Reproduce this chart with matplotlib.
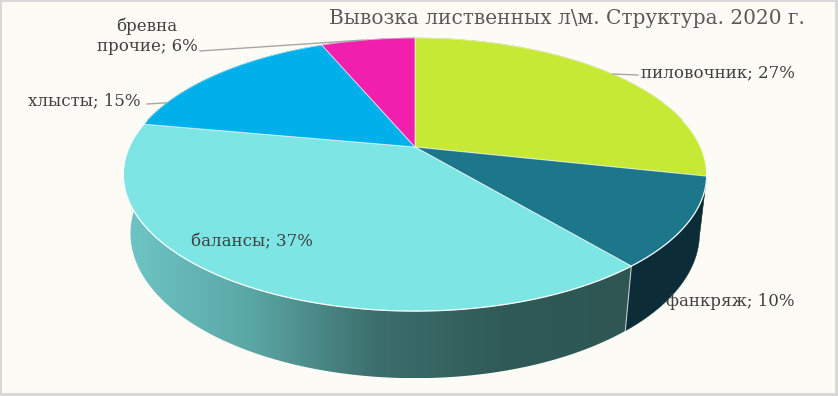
import numpy as np
import matplotlib; matplotlib.use('Agg')
import matplotlib.pyplot as plt
from matplotlib.patches import Polygon, Rectangle
from matplotlib.colors import LinearSegmentedColormap

# ---------------------------------------------------------------------------
# Data: structure of hardwood removals, 2020 (% of total)
# ---------------------------------------------------------------------------
CATEGORIES = ['пиловочник', 'фанкряж', 'балансы', 'хлысты', 'бревна\nпрочие']
SHARES     = [27, 10, 37, 15, 6]
TITLE      = 'Вывозка лиственных л\\м. Структура. 2020 г.'

TOP_COLORS  = ['#c6e935', '#1d778b', '#7de5e3', '#00b0ea', '#f01fae']
WALL_COLORS = ['#7f9a1f', '#0c2d38', None, '#00739a', '#9c1270']   # None -> gradient
WALL_GRAD   = ['#6fc6c6', '#5aa7a5', '#3c6e6c', '#2f5a57', '#2e5754']

C_TEXT = '#404040'; C_TITLE = '#595959'; C_LEADER = '#a6a6a6'
C_BG = '#fcfbf5'; C_FRAME = '#d8d8d8'

# label layout (pixel coords, y down): x, y, ha
LABEL_POS = [(641, 73, 'left'), (666, 302, 'left'), (191, 242, 'left'),
             (140, 101, 'right'), (147, 36, 'center')]
# leader lines: slice index -> (label-side start, fraction along slice arc)
LEADERS = {0: ((638, 75), 0.50), 3: ((147, 104), 0.19), 4: ((200, 51), 0.45)}

W, H = 838, 396

# ---------------------------------------------------------------------------
# Perspective projection of a flat cylinder (Excel-style 3D pie)
# ---------------------------------------------------------------------------
CX, CY = 415, 147
FOC = 1260.0
ELEV = np.radians(27.3)
D0 = 4.41
DEPTH = 0.233
ce, se = np.cos(ELEV), np.sin(ELEV)

def project(theta, z):
    x, y = np.cos(theta), np.sin(theta)
    d = D0 + y * ce - z * se
    u = FOC * x / d
    v = FOC * (y * se + z * ce) / d
    return np.column_stack([CX + u, CY - v])

shares = np.array(SHARES, float)
frac = np.concatenate([[0], np.cumsum(shares) / shares.sum()])
# clockwise from 12 o'clock
th_start = np.pi / 2 - 2 * np.pi * frac[:-1]
th_end   = np.pi / 2 - 2 * np.pi * frac[1:]

fig = plt.figure(figsize=(W / 100, H / 100), dpi=100, facecolor=C_FRAME)
ax = fig.add_axes([0, 0, 1, 1])
ax.set_xlim(0, W); ax.set_ylim(H, 0); ax.axis('off')
ax.add_patch(Rectangle((2, 2), W - 5, H - 5, facecolor=C_BG, edgecolor='none', zorder=0))

grad_cmap = LinearSegmentedColormap.from_list('wall', WALL_GRAD)

# walls, far ones first
order = np.argsort(-np.sin((th_start + th_end) / 2))
for i in order:
    th = np.linspace(th_start[i], th_end[i], 200)
    top = project(th, 0.0)
    bot = project(th, -DEPTH)
    pts = np.vstack([top, bot[::-1]])
    if WALL_COLORS[i] is None:
        poly = Polygon(pts, closed=True, facecolor='none', edgecolor='none', zorder=1)
        ax.add_patch(poly)
        x0, x1 = pts[:, 0].min(), pts[:, 0].max()
        y0, y1 = pts[:, 1].min(), pts[:, 1].max()
        im = ax.imshow(np.linspace(0, 1, 256)[None, :], cmap=grad_cmap, aspect='auto',
                       extent=[x0, x1, y1, y0], zorder=1, interpolation='bilinear')
        im.set_clip_path(poly)
    else:
        ax.add_patch(Polygon(pts, closed=True, facecolor=WALL_COLORS[i],
                             edgecolor=WALL_COLORS[i], lw=0.3, zorder=1))

# seams between visible wall pieces
for t in th_start:
    if np.sin(t) < -0.25:
        seam = np.vstack([project(np.array([t]), 0.0), project(np.array([t]), -DEPTH)])
        ax.plot(seam[:, 0], seam[:, 1], color='#dfe8e8', lw=0.8, alpha=0.8, zorder=2)

# top faces
for i in range(len(SHARES)):
    th = np.linspace(th_start[i], th_end[i], 200)
    pts = np.vstack([[CX, CY], project(th, 0.0)])
    ax.add_patch(Polygon(pts, closed=True, facecolor=TOP_COLORS[i],
                         edgecolor=(1, 1, 1, 0.6), lw=0.7, zorder=3))

# light rim along the front edge of the top face
th_front = np.linspace(np.radians(-192), np.radians(12), 400)
rim = project(th_front, 0.0)
ax.plot(rim[:, 0], rim[:, 1], color='white', lw=0.9, alpha=0.8, zorder=4)

# leader lines
for i, (start, f) in LEADERS.items():
    t = th_start[i] + f * (th_end[i] - th_start[i])
    end = project(np.array([t]), 0.0)[0]
    ax.plot([start[0], end[0]], [start[1], end[1]], color=C_LEADER, lw=1.0, zorder=5)

# labels
SERIF = ['DejaVu Serif']
for name, val, (lx, ly, ha) in zip(CATEGORIES, SHARES, LABEL_POS):
    ax.text(lx, ly, f'{name}; {val}%', ha=ha, va='center', multialignment='center',
            fontsize=12, color=C_TEXT, family=SERIF, zorder=6, linespacing=1.2)

ax.text(805, 19, TITLE, ha='right', va='center', fontsize=14.5, color=C_TITLE,
        family=SERIF, zorder=6)

fig.savefig('out.png', dpi=100, facecolor=fig.get_facecolor())
